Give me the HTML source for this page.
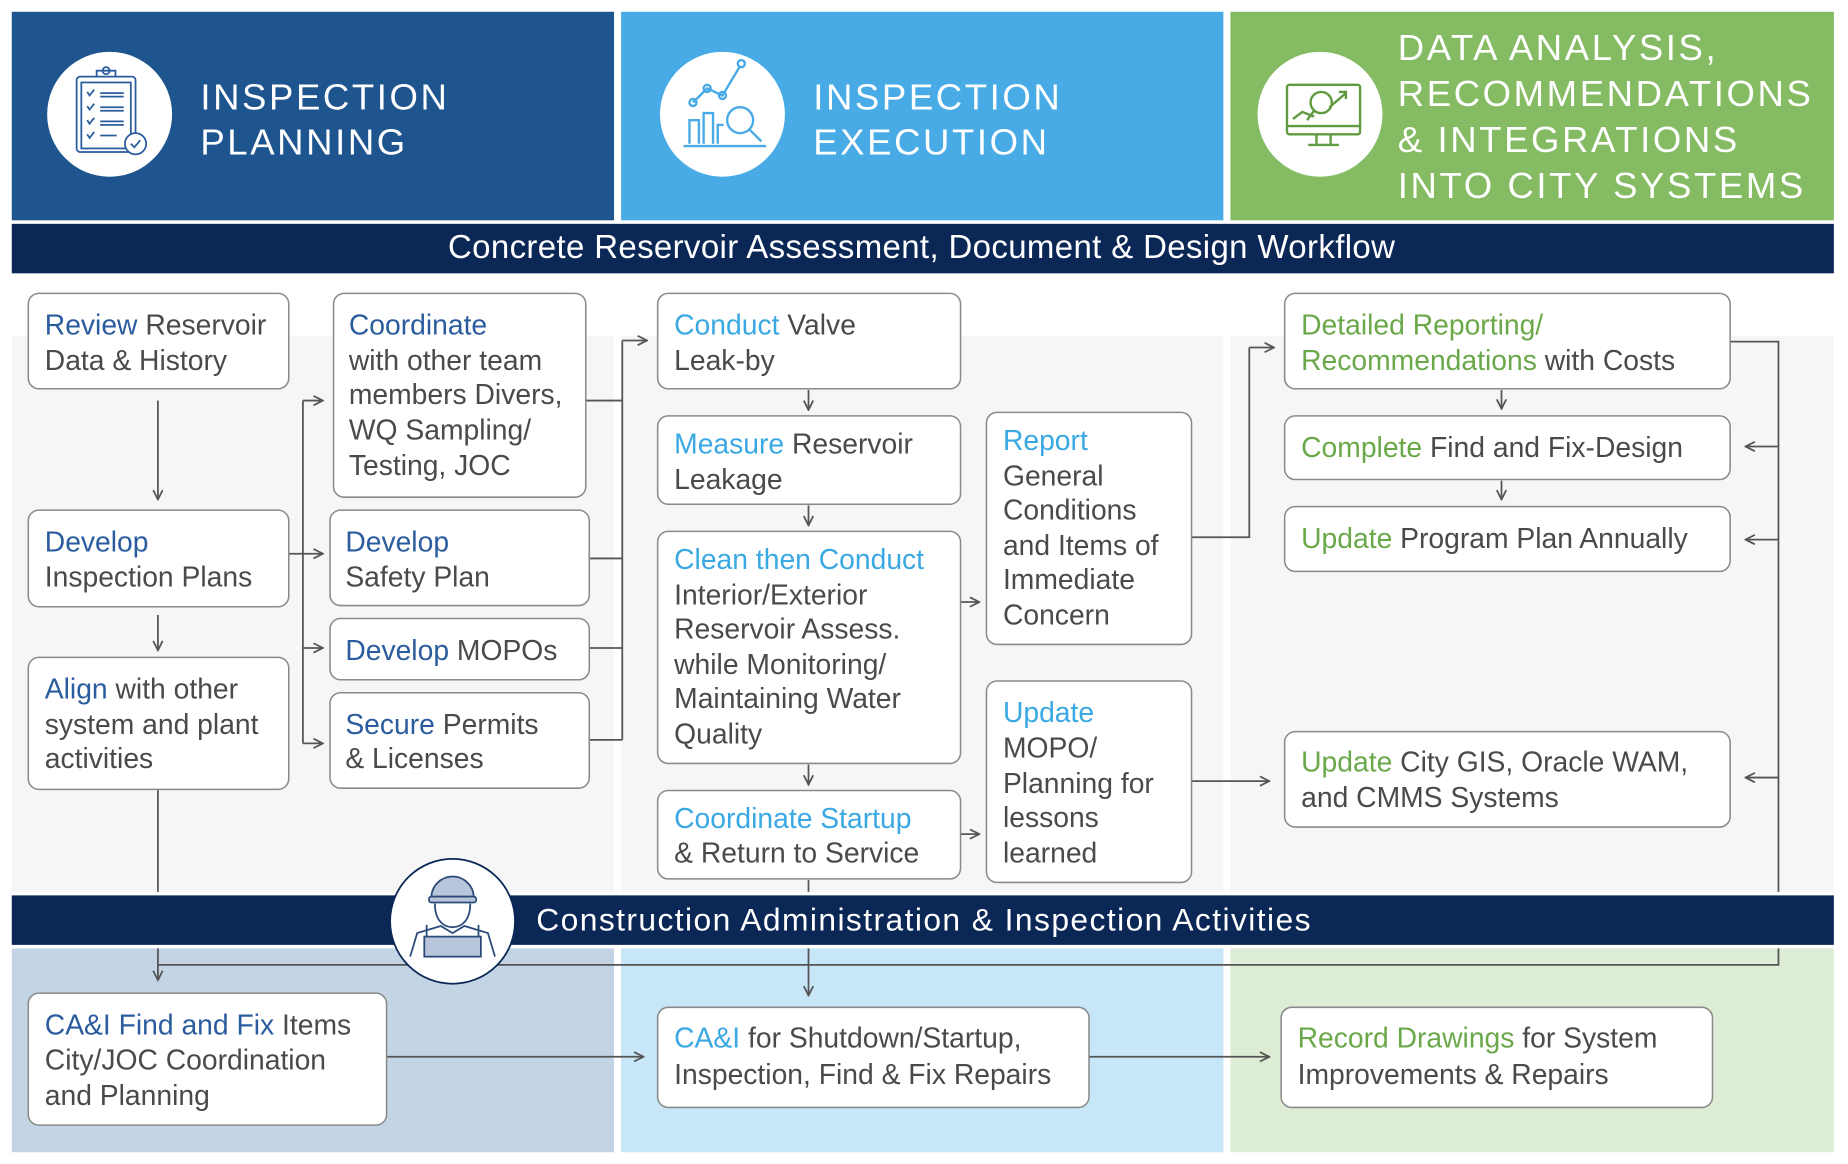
<!DOCTYPE html>
<html><head><meta charset="utf-8"><style>
html,body{margin:0;padding:0;background:#fff;}
svg{display:block;}
text{font-family:"Liberation Sans",sans-serif;}
.t{font-size:24px;fill:#4a4a4a;}
.b{fill:#2b5c9e}.l{fill:#3aa8e2}.g{fill:#6aa84a}
.bx{fill:#fff;stroke:#8a8a8a;stroke-width:1.3}
.ln{stroke:#555;stroke-width:1.5;fill:none}
.hd{font-size:31px;fill:#fff;letter-spacing:2.2px}
</style></head><body>
<svg width="1848" height="1164" viewBox="0 0 1568 988" preserveAspectRatio="none" xmlns="http://www.w3.org/2000/svg">
<defs>
<marker id="a" viewBox="0 0 10 10" refX="9" refY="5" markerWidth="10" markerHeight="10" markerUnits="userSpaceOnUse" orient="auto">
<path d="M1,1 L9,5 L1,9" fill="none" stroke="#555" stroke-width="1.5"/></marker>
</defs>
<rect x="10" y="10" width="511" height="177" fill="#1f558f"/>
<rect x="527" y="10" width="511" height="177" fill="#48abe6"/>
<rect x="1044" y="10" width="512" height="177" fill="#84bb63"/>
<rect x="10" y="190" width="1546" height="42" fill="#0b2756"/>
<text x="782" y="219" text-anchor="middle" style="font-size:28px;fill:#fff;letter-spacing:0.3px">Concrete Reservoir Assessment, Document &amp; Design Workflow</text>
<rect x="10" y="285" width="511" height="472" fill="#f6f6f6"/>
<rect x="527" y="285" width="511" height="472" fill="#f6f6f6"/>
<rect x="1044" y="285" width="512" height="472" fill="#f6f6f6"/>
<rect x="10" y="805" width="511" height="173" fill="#c3d4e4"/>
<rect x="527" y="805" width="511" height="173" fill="#c7e6f7"/>
<rect x="1044" y="805" width="512" height="173" fill="#ddedd5"/>
<rect x="10" y="760" width="1546" height="42" fill="#0b2756"/>
<text x="455" y="790" style="font-size:27px;fill:#fff;letter-spacing:1.2px">Construction Administration &amp; Inspection Activities</text>

<circle cx="93" cy="97" r="53" fill="#fff"/>
<g stroke="#2b5c9e" stroke-width="1.5" fill="none">
<rect x="65" y="65" width="50" height="64" rx="3"/><rect x="69" y="70" width="42" height="56"/>
<path d="M82 65 v-5 h16 v5"/><circle cx="90" cy="60" r="3"/>
<path d="M74 78 l2 3 l4 -5 M74 90 l2 3 l4 -5 M74 102 l2 3 l4 -5 M74 114 l2 3 l4 -5"/>
<path d="M85 79 h20 M85 82 h20 M85 91 h20 M85 94 h20 M85 103 h20 M85 106 h20 M85 115 h14"/>
<circle cx="115" cy="122" r="9" fill="#fff"/><path d="M111 122 l3 3 l5 -6"/>
</g>
<text x="170" y="93" class="hd">INSPECTION</text>
<text x="170" y="131" class="hd">PLANNING</text>

<circle cx="613" cy="97" r="53" fill="#fff"/>
<g stroke="#48abe6" stroke-width="2" fill="none">
<path d="M580 124 h70"/><path d="M585 122 v-20 h8 v20 M597 122 v-26 h8 v26 M609 122 v-16 h5"/>
<path d="M588 87 l12 -12 l13 6 l15 -25"/><circle cx="588" cy="87" r="3"/><circle cx="600" cy="75" r="3"/><circle cx="613" cy="81" r="3"/><circle cx="629" cy="54" r="3"/>
<circle cx="628" cy="102" r="11"/><path d="M636 110 l10 10"/>
</g>
<text x="690" y="93" class="hd">INSPECTION</text>
<text x="690" y="131" class="hd">EXECUTION</text>

<circle cx="1120" cy="97" r="53" fill="#fff"/>
<g stroke="#5f9a3e" stroke-width="2" fill="none">
<rect x="1092" y="72" width="62" height="42" rx="2"/><path d="M1092 107 h62 M1117 114 v8 M1129 114 v8 M1110 123 h26"/>
<circle cx="1121" cy="87" r="9"/><path d="M1115 94 l-6 8 M1097 101 l8 -6 l10 4 M1128 91 l14 -12 M1136 78 h6 v6"/>
</g>
<text x="1186" y="51" class="hd">DATA ANALYSIS,</text>
<text x="1186" y="90" class="hd">RECOMMENDATIONS</text>
<text x="1186" y="129" class="hd">&amp; INTEGRATIONS</text>
<text x="1186" y="168" class="hd">INTO CITY SYSTEMS</text>

<g class="ln">
<path d="M134 340 V424" marker-end="url(#a)"/>
<path d="M134 522 V552" marker-end="url(#a)"/>
<path d="M134 670 V757 M134 805 V832" marker-end="url(#a)"/>
<path d="M245 470 H257 M257 340 V631"/>
<path d="M257 340 H274" marker-end="url(#a)"/>
<path d="M257 470 H274" marker-end="url(#a)"/>
<path d="M257 550 H274" marker-end="url(#a)"/>
<path d="M257 631 H274" marker-end="url(#a)"/>
<path d="M497 340 H528 M500 474 H528 M500 550 H528 M500 628 H528 M528 628 V289"/>
<path d="M528 289 H549" marker-end="url(#a)"/>
<path d="M686 331 V348" marker-end="url(#a)"/>
<path d="M686 429 V446" marker-end="url(#a)"/>
<path d="M686 649 V666" marker-end="url(#a)"/>
<path d="M686 747 V757"/>
<path d="M686 805 V845" marker-end="url(#a)"/>
<path d="M815 511 H831" marker-end="url(#a)"/>
<path d="M815 708 H831" marker-end="url(#a)"/>
<path d="M1011 456 H1060 V295"/>
<path d="M1060 295 H1081" marker-end="url(#a)"/>
<path d="M1011 663 H1077" marker-end="url(#a)"/>
<path d="M1274 331 V347" marker-end="url(#a)"/>
<path d="M1274 408 V424" marker-end="url(#a)"/>
<path d="M1468 290 H1509 V757 M1509 805 V819 H134"/>
<path d="M1509 379 H1481" marker-end="url(#a)"/>
<path d="M1509 458 H1481" marker-end="url(#a)"/>
<path d="M1509 660 H1481" marker-end="url(#a)"/>
<path d="M328 897 H546" marker-end="url(#a)"/>
<path d="M924 897 H1077" marker-end="url(#a)"/>
</g>

<circle cx="384" cy="782" r="53" fill="#fff" stroke="#0b2756" stroke-width="1.5"/>
<g stroke="#2a4a7a" stroke-width="1.5" fill="#b9c5da">
<path d="M366 762 a18 18 0 0 1 36 0 z"/><rect x="364" y="761" width="40" height="5" rx="2"/>
<path d="M369 767 c0 14 7 20 15 20 c8 0 15 -6 15 -20" fill="#fff"/>
<path d="M348 812 l6 -20 l20 -6 l10 6 l10 -6 l20 6 l6 20" fill="#fff"/>
<rect x="360" y="795" width="48" height="17"/><path d="M362 795 v-10 M406 795 v-10" />
</g>

<g class="bx">
<rect x="24" y="249" width="221" height="81" rx="9"/>
<rect x="24" y="433" width="221" height="82" rx="9"/>
<rect x="24" y="558" width="221" height="112" rx="9"/>
<rect x="283" y="249" width="214" height="173" rx="9"/>
<rect x="280" y="433" width="220" height="81" rx="9"/>
<rect x="280" y="525" width="220" height="52" rx="9"/>
<rect x="280" y="588" width="220" height="81" rx="9"/>
<rect x="558" y="249" width="257" height="81" rx="9"/>
<rect x="558" y="353" width="257" height="75" rx="9"/>
<rect x="558" y="451" width="257" height="197" rx="9"/>
<rect x="558" y="671" width="257" height="75" rx="9"/>
<rect x="837" y="350" width="174" height="197" rx="9"/>
<rect x="837" y="578" width="174" height="171" rx="9"/>
<rect x="1090" y="249" width="378" height="81" rx="9"/>
<rect x="1090" y="353" width="378" height="54" rx="9"/>
<rect x="1090" y="430" width="378" height="55" rx="9"/>
<rect x="1090" y="621" width="378" height="81" rx="9"/>
<rect x="24" y="843" width="304" height="112" rx="9"/>
<rect x="558" y="855" width="366" height="85" rx="9"/>
<rect x="1087" y="855" width="366" height="85" rx="9"/>
</g>

<g class="t">
<text x="38" y="284"><tspan class="b">Review</tspan> Reservoir</text>
<text x="38" y="314">Data &amp; History</text>
<text x="38" y="468" class="b">Develop</text>
<text x="38" y="498">Inspection Plans</text>
<text x="38" y="593"><tspan class="b">Align</tspan> with other</text>
<text x="38" y="623">system and plant</text>
<text x="38" y="652">activities</text>
<text x="296" y="284" class="b">Coordinate</text>
<text x="296" y="314">with other team</text>
<text x="296" y="343">members Divers,</text>
<text x="296" y="373">WQ Sampling/</text>
<text x="296" y="403">Testing, JOC</text>
<text x="293" y="468" class="b">Develop</text>
<text x="293" y="498">Safety Plan</text>
<text x="293" y="560"><tspan class="b">Develop</tspan> MOPOs</text>
<text x="293" y="623"><tspan class="b">Secure</tspan> Permits</text>
<text x="293" y="652">&amp; Licenses</text>
<text x="572" y="284"><tspan class="l">Conduct</tspan> Valve</text>
<text x="572" y="314">Leak-by</text>
<text x="572" y="385"><tspan class="l">Measure</tspan> Reservoir</text>
<text x="572" y="415">Leakage</text>
<text x="572" y="483" class="l">Clean then Conduct</text>
<text x="572" y="513">Interior/Exterior</text>
<text x="572" y="542">Reservoir Assess.</text>
<text x="572" y="572">while Monitoring/</text>
<text x="572" y="601">Maintaining Water</text>
<text x="572" y="631">Quality</text>
<text x="572" y="703" class="l">Coordinate Startup</text>
<text x="572" y="732">&amp; Return to Service</text>
<text x="851" y="382" class="l">Report</text>
<text x="851" y="412">General</text>
<text x="851" y="441">Conditions</text>
<text x="851" y="471">and Items of</text>
<text x="851" y="500">Immediate</text>
<text x="851" y="530">Concern</text>
<text x="851" y="613" class="l">Update</text>
<text x="851" y="643">MOPO/</text>
<text x="851" y="673">Planning for</text>
<text x="851" y="702">lessons</text>
<text x="851" y="732">learned</text>
<text x="1104" y="284" class="g">Detailed Reporting/</text>
<text x="1104" y="314"><tspan class="g">Recommendations</tspan> with Costs</text>
<text x="1104" y="388"><tspan class="g">Complete</tspan> Find and Fix-Design</text>
<text x="1104" y="465"><tspan class="g">Update</tspan> Program Plan Annually</text>
<text x="1104" y="655"><tspan class="g">Update</tspan> City GIS, Oracle WAM,</text>
<text x="1104" y="685">and CMMS Systems</text>
<text x="38" y="878"><tspan class="b">CA&amp;I Find and Fix</tspan> Items</text>
<text x="38" y="908">City/JOC Coordination</text>
<text x="38" y="938">and Planning</text>
<text x="572" y="889"><tspan class="l">CA&amp;I</tspan> for Shutdown/Startup,</text>
<text x="572" y="920">Inspection, Find &amp; Fix Repairs</text>
<text x="1101" y="889"><tspan class="g">Record Drawings</tspan> for System</text>
<text x="1101" y="920">Improvements &amp; Repairs</text>
</g>
</svg>
</body></html>
